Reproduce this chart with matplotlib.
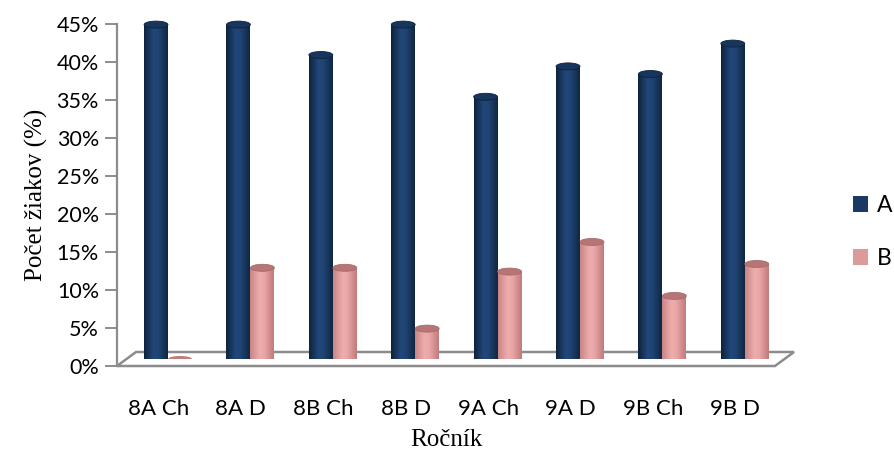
import numpy as np
import matplotlib
matplotlib.use("Agg")
import matplotlib.pyplot as plt
from matplotlib.patches import Ellipse, Polygon, Patch
from matplotlib.colors import LinearSegmentedColormap

categories = ["8A Ch", "8A D", "8B Ch", "8B D", "9A Ch", "9A D", "9B Ch", "9B D"]
series_names = ["A", "B"]
values_A = [44.0, 44.0, 40.0, 44.0, 34.5, 38.5, 37.5, 41.5]
values_B = [0.0, 12.0, 12.0, 4.0, 11.5, 15.4, 8.3, 12.5]
yticks = [0, 5, 10, 15, 20, 25, 30, 35, 40, 45]
ytick_labels = [f"{v}%" for v in yticks]

W, H = 894, 453
fig = plt.figure(figsize=(W / 100, H / 100), dpi=100)

# geometry (pixels)
ax_l, ax_r, ax_b, ax_t = 117, 775, 366, 24
dx, dy = 19, 14  # depth of floor
x0, x1 = -0.504, 7.482

front = fig.add_axes([ax_l / W, 1 - ax_b / H, (ax_r - ax_l) / W, (ax_b - ax_t) / H])
front.set_xlim(x0, x1)
front.set_ylim(0, 45)
front.patch.set_alpha(0)
for s in ["top", "right", "bottom"]:
    front.spines[s].set_visible(False)
front.spines["left"].set_color("#8c8c8c")
front.spines["left"].set_linewidth(1.6)
front.set_yticks(yticks)
front.set_yticklabels(ytick_labels, fontfamily="Lato", fontsize=15.5)
front.tick_params(axis="y", length=9, width=1.4, color="#8c8c8c", pad=4)
front.set_xticks(range(len(categories)))
front.set_xticklabels(categories, fontfamily="Lato", fontsize=16)
front.tick_params(axis="x", length=0, pad=24)
front.set_ylabel("Počet žiakov (%)", fontfamily="Liberation Serif", fontsize=18, labelpad=6)
front.set_xlabel("Ročník", fontfamily="Liberation Serif", fontsize=18, labelpad=7)

# floor
fw = ax_r - ax_l
fh = ax_b - ax_t
floor = Polygon([(0, 0), (1, 0), (1 + dx / fw, dy / fh), (dx / fw, dy / fh)],
                closed=True, transform=front.transAxes, facecolor="white",
                edgecolor="#8c8c8c", linewidth=1.8, clip_on=False, zorder=0)
front.add_patch(floor)

# bar plane axes
bars_ax = fig.add_axes([(ax_l + dx / 2) / W, 1 - (ax_b - dy / 2) / H, fw / W, fh / H])
bars_ax.set_xlim(x0, x1)
bars_ax.set_ylim(0, 45)
bars_ax.axis("off")
bars_ax.patch.set_alpha(0)

navy_cmap = LinearSegmentedColormap.from_list("navy", [(0, "#0f223c"), (0.4, "#21487a"), (0.6, "#1f4474"), (1, "#112744")])
pink_cmap = LinearSegmentedColormap.from_list("pink", [(0, "#c98585"), (0.4, "#eeadad"), (0.6, "#eaa6a6"), (1, "#c07c7c")])
grad = np.linspace(0, 1, 64).reshape(1, -1)

bw = 0.29
off = 0.1456
cap_h = 0.92
bot_h = 0.8
x = np.arange(len(categories))

def cylinders(xs, vals, cmap, cap_color, edge_color, bottom_color):
    bars = bars_ax.bar(xs, vals, width=bw, color="none", edgecolor="none", zorder=2)
    for rect, v in zip(bars, vals):
        cx = rect.get_x() + rect.get_width() / 2
        bars_ax.add_patch(Ellipse((cx, 0), bw, bot_h, facecolor=bottom_color, edgecolor="none", zorder=2))
        if v > 0:
            im = bars_ax.imshow(grad, cmap=cmap, aspect="auto",
                                extent=(rect.get_x(), rect.get_x() + rect.get_width(), 0, v),
                                zorder=3, interpolation="bilinear")
            im.set_clip_path(rect)
            bars_ax.add_patch(Ellipse((cx, v), bw, cap_h, facecolor=cap_color,
                                      edgecolor=edge_color, linewidth=0.6, zorder=4))
    return bars

cylinders(x - off, values_A, navy_cmap, "#17355d", "#0f223c", "#15304f")
cylinders(x + off, values_B, pink_cmap, "#b87575", "#a86a6a", "#c27d7d")
bars_ax.set_xlim(x0, x1)
bars_ax.set_ylim(0, 45)

handles = [Patch(facecolor="#1b3a63", edgecolor="none"), Patch(facecolor="#dc9a9a", edgecolor="none")]
fig.legend(handles, series_names, loc="center left", bbox_to_anchor=(846 / W, 1 - 232 / H),
           frameon=False, handlelength=0.68, handleheight=0.68, handletextpad=0.35,
           labelspacing=1.4, borderaxespad=0, borderpad=0.3,
           prop={"family": "Lato", "size": 16.5})

fig.savefig("out.png", dpi=100)
